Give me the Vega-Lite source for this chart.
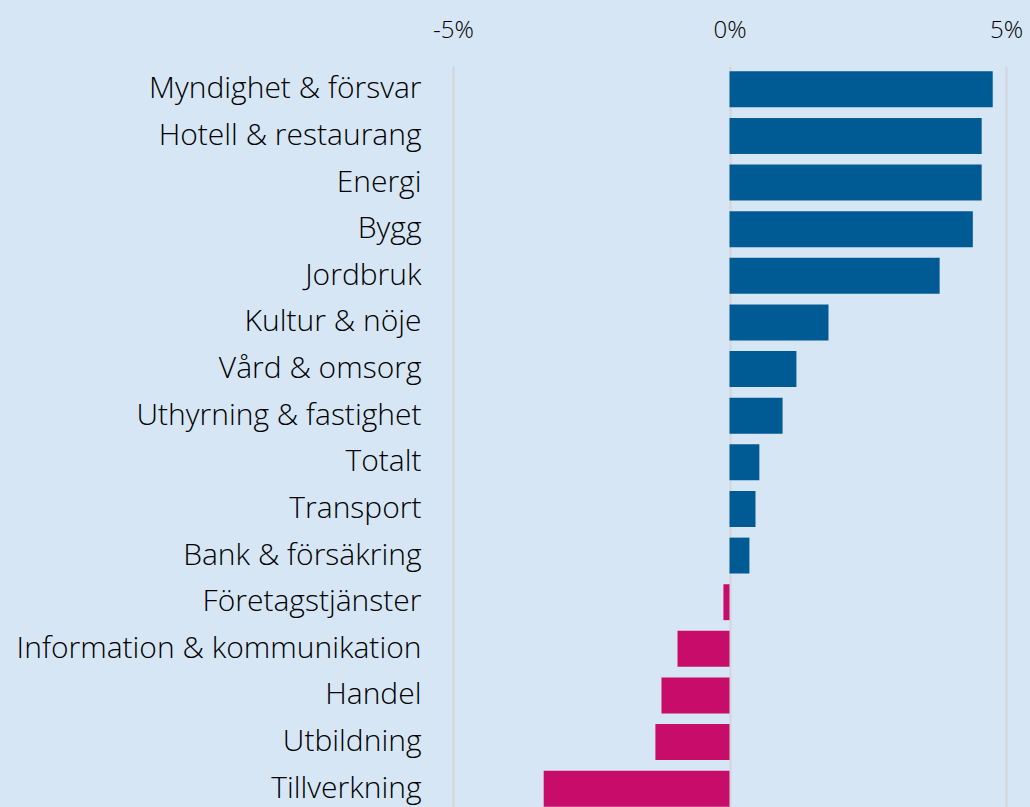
{
  "$schema": "https://vega.github.io/schema/vega-lite/v6.json",
  "width": 553,
  "height": 746,
  "autosize": {"type": "none"},
  "padding": {"left": 453, "top": 66, "right": 24, "bottom": 0},
  "background": "#D6E6F5",
  "config": {"view": {"stroke": null}, "font": "Open Sans"},
  "data": {
    "values": [
      {"sektor": "Myndighet & försvar", "varde": 4.76},
      {"sektor": "Hotell & restaurang", "varde": 4.56},
      {"sektor": "Energi", "varde": 4.56},
      {"sektor": "Bygg", "varde": 4.40},
      {"sektor": "Jordbruk", "varde": 3.80},
      {"sektor": "Kultur & nöje", "varde": 1.79},
      {"sektor": "Vård & omsorg", "varde": 1.21},
      {"sektor": "Uthyrning & fastighet", "varde": 0.96},
      {"sektor": "Totalt", "varde": 0.54},
      {"sektor": "Transport", "varde": 0.47},
      {"sektor": "Bank & försäkring", "varde": 0.36},
      {"sektor": "Företagstjänster", "varde": -0.11},
      {"sektor": "Information & kommunikation", "varde": -0.94},
      {"sektor": "Handel", "varde": -1.23},
      {"sektor": "Utbildning", "varde": -1.34},
      {"sektor": "Tillverkning", "varde": -3.36}
    ]
  },
  "mark": {"type": "bar"},
  "encoding": {
    "y": {
      "field": "sektor",
      "type": "nominal",
      "sort": null,
      "scale": {"paddingInner": 0.23, "paddingOuter": 0.115},
      "axis": {
        "title": null,
        "domain": false,
        "ticks": false,
        "labelFontSize": 30,
        "labelFontWeight": 300,
        "labelColor": "#000000",
        "labelPadding": 32,
        "labelLimit": 500
      }
    },
    "x": {
      "field": "varde",
      "type": "quantitative",
      "scale": {"domain": [-5, 5], "nice": false},
      "axis": {
        "orient": "top",
        "title": null,
        "values": [-5, 0, 5],
        "labelExpr": "datum.value + '%'",
        "domain": false,
        "ticks": false,
        "labelFontSize": 24,
        "labelFontWeight": 300,
        "labelColor": "#000000",
        "labelPadding": 24,
        "labelFlush": false,
        "grid": true,
        "gridColor": "#D3D6DA",
        "gridWidth": 2
      }
    },
    "color": {
      "condition": {"test": "datum.varde < 0", "value": "#C80C69"},
      "value": "#005A94"
    }
  }
}
